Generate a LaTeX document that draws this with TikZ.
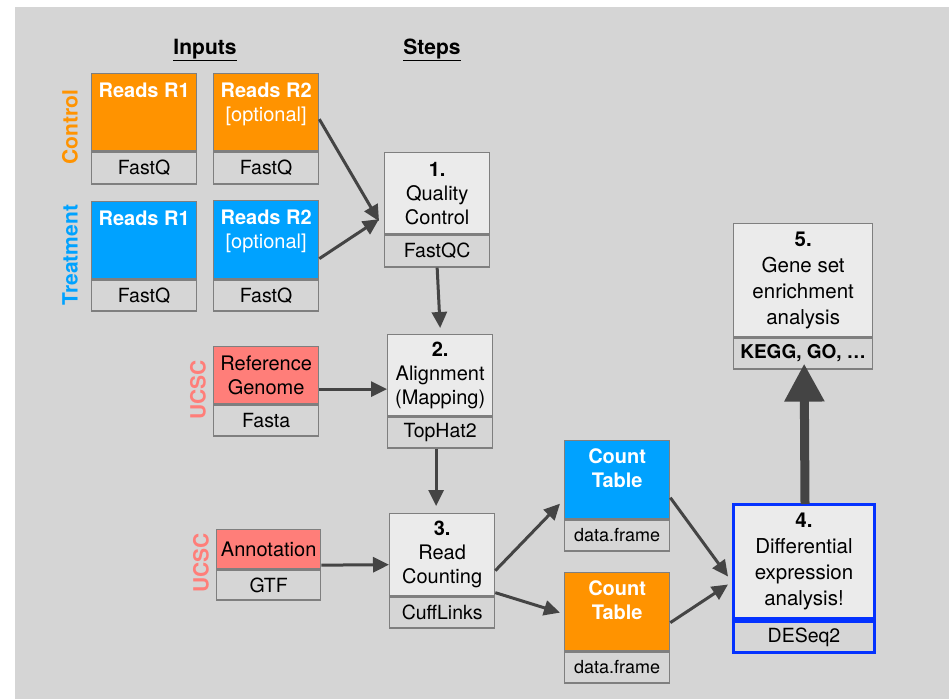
\documentclass[tikz,border=0pt]{standalone}
\usepackage{fontspec}
\setmainfont{TeX Gyre Heros}
\usetikzlibrary{arrows.meta}
\definecolor{bg}{HTML}{D5D5D5}
\definecolor{boxgray}{HTML}{EBEBEB}
\definecolor{lowgray}{HTML}{D6D6D6}
\definecolor{edge}{HTML}{7F7F7F}
\definecolor{aorange}{HTML}{FF9300}
\definecolor{ablue}{HTML}{00A2FF}
\definecolor{asalmon}{HTML}{FF7E79}
\definecolor{dblue}{HTML}{0432FF}
\definecolor{arrowc}{HTML}{444444}
\tikzset{
  topbox/.style={draw=edge, line width=1.3pt, inner sep=0pt, anchor=north west, align=center,
    font=\fontsize{20}{24}\selectfont},
  lowbox/.style={draw=edge, line width=1.3pt, fill=lowgray, inner sep=0pt, anchor=north west,
    font=\fontsize{19.5}{24}\selectfont},
  whitetxt/.style={text=white, align=center, font=\fontsize{20}{24}\selectfont},
  flow/.style={draw=arrowc, line width=3pt, -{Triangle[length=16pt,width=15pt]}},
  header/.style={font=\bfseries\fontsize{21}{24}\selectfont},
  sidelabel/.style={rotate=90, font=\bfseries\fontsize{21}{24}\selectfont},
}
\begin{document}
\begin{tikzpicture}[x=1pt,y=-1pt]
\useasboundingbox (0,0) rectangle (949,699);
\fill[white] (0,0) rectangle (949,699);
\fill[bg] (15,7) rectangle (949,699);

% headers
\node[header] (hin) at (205,50) {\underline{Inputs}};
\node[header] (hst) at (432,50) {\underline{Steps}};

% side labels
\node[sidelabel, text=aorange] (lctl) at (70,127) {Control};
\node[sidelabel, text=ablue] (ltrt) at (70,255) {Treatment};
\node[sidelabel, text=asalmon] (lucsc1) at (198,390) {UCSC};
\node[sidelabel, text=asalmon] (lucsc2) at (201,563) {UCSC};

% control inputs
\node[topbox, fill=aorange, minimum width=105, minimum height=77] (c1) at (91,73) {};
\node[whitetxt, font=\bfseries\fontsize{20}{24}\selectfont] (c1t) at ([yshift=-17]c1.north) {Reads R1};
\node[lowbox, minimum width=105, minimum height=32] (c1b) at (c1.south west) {FastQ};
\node[topbox, fill=aorange, minimum width=105, minimum height=77] (c2) at (213,73) {};
\node[whitetxt, anchor=north] (c2t) at ([yshift=-6]c2.north) {\textbf{Reads R2}\\{}[optional]};
\node[lowbox, minimum width=105, minimum height=32] (c2b) at (c2.south west) {FastQ};

% treatment inputs
\node[topbox, fill=ablue, minimum width=105, minimum height=77] (t1) at (91,201) {};
\node[whitetxt, font=\bfseries\fontsize{20}{24}\selectfont] (t1t) at ([yshift=-17]t1.north) {Reads R1};
\node[lowbox, minimum width=105, minimum height=31] (t1b) at (t1.south west) {FastQ};
\node[topbox, fill=ablue, minimum width=105, minimum height=78] (t2) at (213,200) {};
\node[whitetxt, anchor=north] (t2t) at ([yshift=-6]t2.north) {\textbf{Reads R2}\\{}[optional]};
\node[lowbox, minimum width=105, minimum height=31] (t2b) at (t2.south west) {FastQ};

% step 1
\node[topbox, fill=boxgray, minimum width=105, minimum height=81] (s1) at (384,152) {\textbf{1.}\\Quality\\Control};
\node[lowbox, minimum width=105, minimum height=32] (s1b) at (s1.south west) {FastQC};

% reference genome
\node[topbox, fill=asalmon, minimum width=105, minimum height=57] (ref) at (213,346) {Reference\\Genome};
\node[lowbox, minimum width=105, minimum height=31] (refb) at (ref.south west) {Fasta};

% step 2
\node[topbox, fill=boxgray, minimum width=105, minimum height=81] (s2) at (387,334) {\textbf{2.}\\Alignment\\(Mapping)};
\node[lowbox, minimum width=105, minimum height=31] (s2b) at (s2.south west) {TopHat2};

% annotation
\node[topbox, fill=asalmon, minimum width=104, minimum height=39] (ann) at (216,529) {Annotation};
\node[lowbox, minimum width=104, minimum height=30] (annb) at (ann.south west) {GTF};

% step 3
\node[topbox, fill=boxgray, minimum width=105, minimum height=82] (s3) at (389,513) {\textbf{3.}\\Read\\Counting};
\node[lowbox, minimum width=105, minimum height=31] (s3b) at (s3.south west) {CuffLinks};

% count tables
\node[topbox, fill=ablue, minimum width=105, minimum height=78] (ctb) at (564,440) {};
\node[whitetxt, anchor=north, font=\bfseries\fontsize{20}{24}\selectfont] (ctbt) at ([yshift=-5]ctb.north) {Count\\Table};
\node[lowbox, minimum width=105, minimum height=31, font=\fontsize{18}{24}\selectfont] (ctbb) at (ctb.south west) {data.frame};
\node[topbox, fill=aorange, minimum width=105, minimum height=78] (cto) at (564,572) {};
\node[whitetxt, anchor=north, font=\bfseries\fontsize{20}{24}\selectfont] (ctot) at ([yshift=-5]cto.north) {Count\\Table};
\node[lowbox, minimum width=105, minimum height=31, font=\fontsize{18}{24}\selectfont] (ctob) at (cto.south west) {data.frame};

% step 4
\node[topbox, fill=boxgray, draw=dblue, line width=3pt, minimum width=141, minimum height=114,
  font=\fontsize{20.5}{26}\selectfont] (s4) at (732,503) {\textbf{4.}\\Differential\\expression\\analysis!};
\node[lowbox, draw=dblue, line width=3pt, minimum width=141, minimum height=31] (s4b) at (s4.south west) {DESeq2};

% step 5
\node[topbox, fill=boxgray, minimum width=139, minimum height=113,
  font=\fontsize{20.5}{26}\selectfont] (s5) at (733,223) {\textbf{5.}\\Gene set\\enrichment\\analysis};
\node[lowbox, minimum width=139, minimum height=31, font=\bfseries\fontsize{19}{24}\selectfont] (s5b) at (s5.south west) {KEGG, GO, …};

% connectors
\draw[flow] ([yshift=-7]c2.east) -- ([xshift=-5,yshift=-28]s1.west);
\draw[flow] ([yshift=-19]t2.east) -- ([xshift=-5,yshift=-26]s1.west);
\draw[flow] (s1b.south) -- ([yshift=6]s2.north);
\draw[flow] ([yshift=-14]ref.east) -- ([yshift=-14]s2.west);
\draw[flow] ([xshift=-4]s2b.south) -- ([xshift=-6,yshift=7]s3.north);
\draw[flow] ([yshift=-16]ann.east) -- ([yshift=-10]s3.west);
\draw[flow] ([yshift=-16]s3.east) -- ([xshift=-4,yshift=-24]ctb.west);
\draw[flow] ([yshift=-38]s3.east) -- ([xshift=-4,yshift=-1]cto.west);
\draw[flow] ([yshift=-18]ctb.east) -- ([xshift=-4,yshift=-15]s4.west);
\draw[flow] ([yshift=-11]cto.east) -- ([xshift=-4,yshift=-23]s4.west);
\draw[draw=arrowc, line width=9pt, -{Triangle[length=38pt,width=38pt]}] ([xshift=1,yshift=-1]s4.north) -- ([xshift=1,yshift=6]s5b.south);
\end{tikzpicture}
\end{document}
